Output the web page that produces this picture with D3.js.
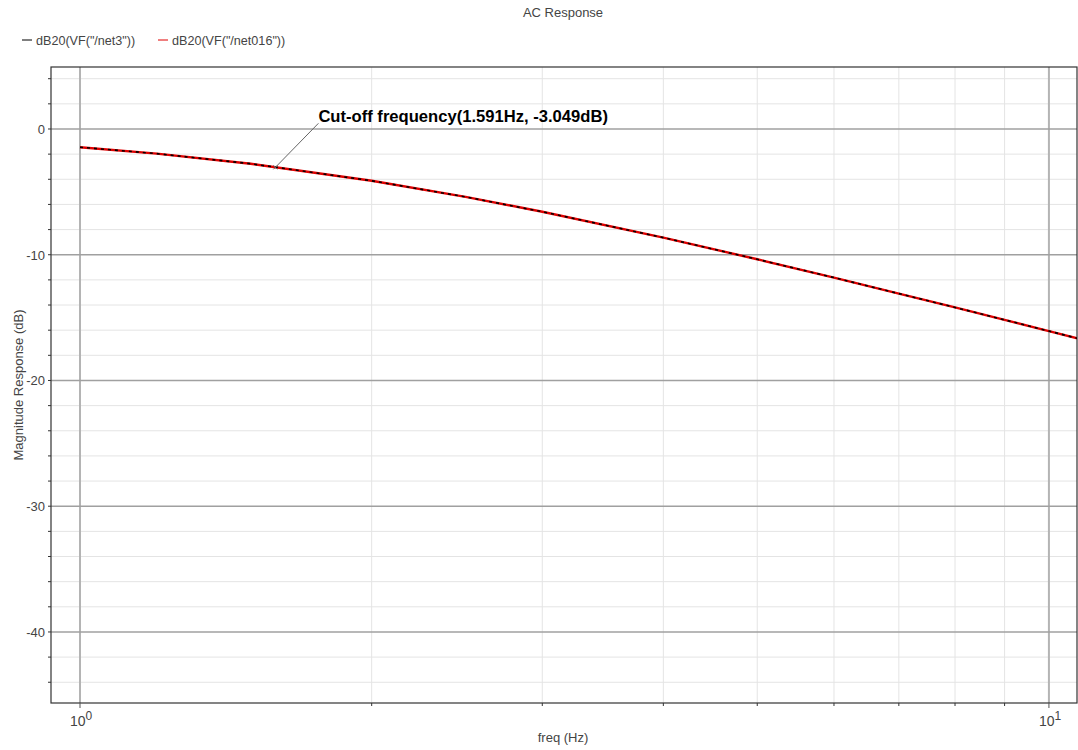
<!DOCTYPE html>
<html>
<head>
<meta charset="utf-8">
<title>AC Response</title>
<style>
  body { margin: 0; background: #fff; }
  text { font-family: "Liberation Sans", Arial, sans-serif; }
</style>
</head>
<body>
<script src="https://d3js.org/d3.v7.min.js"></script>
<script>
// values
const freqs = [1, 1.2, 1.5, 2, 2.5, 3, 4, 5, 6, 7, 8, 9, 10, 10.7];
const net3 = [-1.45, -1.96, -2.76, -4.12, -5.40, -6.58, -8.64, -10.36, -11.82, -13.09, -14.19, -15.18, -16.07, -16.65];
const net016 = [-1.45, -1.96, -2.76, -4.12, -5.40, -6.58, -8.64, -10.36, -11.82, -13.09, -14.19, -15.18, -16.07, -16.65];
const yTicks = [0, -10, -20, -30, -40];
const seriesNames = ['dB20(VF("/net3"))', 'dB20(VF("/net016"))'];
const cutoff = { f: 1.591, db: -3.049 };

const W = 1078, H = 750;
const m = { left: 51, top: 67, right: 1077, bottom: 703 };

const svg = d3.select("body").append("svg")
  .attr("width", W).attr("height", H);

const x = d3.scaleLog().domain([0.9334, 10.69]).range([m.left, m.right]);
const y = d3.scaleLinear().domain([4.93, -45.65]).range([m.top, m.bottom]);

// grid
const minorX = [];
for (let d = 0; d <= 1; d++) for (let k = 2; k <= 9; k++) minorX.push(k * Math.pow(10, d));
const majorX = [1, 10];
const minorY = d3.range(4, -46, -2).filter(v => v % 10 != 0);

const grid = svg.append("g");
grid.selectAll(".gx").data(minorX.filter(v => v < 10.69)).enter().append("line")
  .attr("x1", d => x(d)).attr("x2", d => x(d))
  .attr("y1", m.top).attr("y2", m.bottom)
  .attr("stroke", "#e4e4e4").attr("stroke-width", 1);
grid.selectAll(".gy").data(minorY).enter().append("line")
  .attr("x1", m.left).attr("x2", m.right)
  .attr("y1", d => y(d)).attr("y2", d => y(d))
  .attr("stroke", "#e4e4e4").attr("stroke-width", 1);
grid.selectAll(".Gx").data(majorX).enter().append("line")
  .attr("x1", d => x(d)).attr("x2", d => x(d))
  .attr("y1", m.top).attr("y2", m.bottom)
  .attr("stroke", "#b4b4b4").attr("stroke-width", 2);
grid.selectAll(".Gy").data(yTicks).enter().append("line")
  .attr("x1", m.left).attr("x2", m.right)
  .attr("y1", d => y(d)).attr("y2", d => y(d))
  .attr("stroke", "#a0a0a0").attr("stroke-width", 1.5);

// frame
svg.append("rect")
  .attr("x", m.left).attr("y", m.top)
  .attr("width", m.right - m.left).attr("height", m.bottom - m.top)
  .attr("fill", "none").attr("stroke", "#333").attr("stroke-width", 1.2);

// y ticks
svg.selectAll(".yt").data(d3.range(4, -46, -2)).enter().append("line")
  .attr("x1", m.left - 3).attr("x2", m.left)
  .attr("y1", d => y(d)).attr("y2", d => y(d))
  .attr("stroke", "#333");
svg.selectAll(".yl").data(yTicks).enter().append("text")
  .attr("x", m.left - 6).attr("y", d => y(d) + 5)
  .attr("text-anchor", "end").attr("font-size", 13).attr("fill", "#444")
  .text(d => d);

// x ticks
svg.selectAll(".xt").data(minorX.filter(v => v < 10.69)).enter().append("line")
  .attr("x1", d => x(d)).attr("x2", d => x(d))
  .attr("y1", m.bottom).attr("y2", m.bottom + 3)
  .attr("stroke", "#333");
svg.selectAll(".xT").data(majorX).enter().append("line")
  .attr("x1", d => x(d)).attr("x2", d => x(d))
  .attr("y1", m.bottom).attr("y2", m.bottom + 5)
  .attr("stroke", "#555");
const xl = svg.selectAll(".xl").data(majorX).enter().append("text")
  .attr("x", d => x(d) - 10).attr("y", m.bottom + 23)
  .attr("font-size", 14).attr("fill", "#444");
xl.append("tspan").text("10");
xl.append("tspan").attr("dy", -6).attr("font-size", 12).text(d => Math.round(Math.log10(d)));

// curves
const line = d3.line().x(d => x(d[0])).y(d => y(d[1]));
const clip = svg.append("clipPath").attr("id", "clip").append("rect")
  .attr("x", m.left).attr("y", m.top).attr("width", m.right - m.left).attr("height", m.bottom - m.top);
svg.append("path").datum(freqs.map((f, i) => [f, net016[i]]))
  .attr("d", line).attr("fill", "none").attr("stroke", "#e00000").attr("stroke-width", 2.4)
  .attr("clip-path", "url(#clip)");
svg.append("path").datum(freqs.map((f, i) => [f, net3[i]]))
  .attr("d", line).attr("fill", "none").attr("stroke", "#000").attr("stroke-width", 1.6)
  .attr("stroke-dasharray", "3,4").attr("clip-path", "url(#clip)");

// annotation
const cx = x(cutoff.f), cy = y(cutoff.db);
svg.append("line").attr("x1", cx).attr("y1", cy).attr("x2", cx + 43).attr("y2", cy - 44)
  .attr("stroke", "#666").attr("stroke-width", 1);
svg.append("path").attr("d", `M${cx - 2},${cy - 2}L${cx + 2},${cy + 2}M${cx - 2},${cy + 2}L${cx + 2},${cy - 2}`)
  .attr("stroke", "#666");
svg.append("text").attr("x", cx + 43).attr("y", cy - 45)
  .attr("font-size", 16.6).attr("font-weight", "bold").attr("fill", "#000")
  .text(`Cut-off frequency(${cutoff.f}Hz, ${cutoff.db}dB)`);

// titles
svg.append("text").attr("x", 563).attr("y", 17).attr("text-anchor", "middle")
  .attr("font-size", 13).attr("fill", "#444").text("AC Response");
svg.append("text").attr("x", 563).attr("y", 742).attr("text-anchor", "middle")
  .attr("font-size", 13).attr("fill", "#444").text("freq (Hz)");
svg.append("text").attr("transform", "translate(23,385) rotate(-90)").attr("text-anchor", "middle")
  .attr("font-size", 13).attr("fill", "#444").text("Magnitude Response (dB)");

// legend
const legColors = ["#000", "#e00000"];
const legX = [22, 158];
seriesNames.forEach((n, i) => {
  svg.append("line").attr("x1", legX[i]).attr("x2", legX[i] + 10)
    .attr("y1", 40).attr("y2", 40).attr("stroke", legColors[i]).attr("stroke-width", 1);
  svg.append("text").attr("x", legX[i] + 14).attr("y", 45)
    .attr("font-size", 12.6).attr("fill", "#444").text(n);
});
</script>
</body>
</html>
